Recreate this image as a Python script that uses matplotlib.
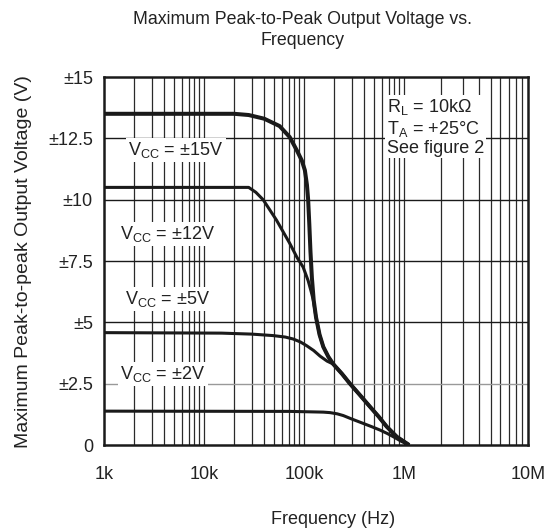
import numpy as np
import matplotlib
matplotlib.use("Agg")
import matplotlib.pyplot as plt
from matplotlib.ticker import FixedLocator, NullFormatter

plt.rcParams['font.family'] = ['Liberation Sans', 'DejaVu Sans']
plt.rcParams['mathtext.fontset'] = 'custom'
plt.rcParams['mathtext.rm'] = 'Liberation Sans'
plt.rcParams['mathtext.it'] = 'Liberation Sans'

# ---- data ----
freq_15 = [1e3, 20e3, 28e3, 40e3, 57e3, 72e3, 85e3, 95e3, 102e3, 107e3, 110e3, 113e3,
           116e3, 120e3, 125e3, 132e3, 143e3, 156e3, 175e3, 196e3, 240e3, 288e3,
           360e3, 457e3, 560e3, 671e3, 850e3, 1.1e6]
v_15 = [13.5, 13.5, 13.45, 13.3, 13.0, 12.55, 12.0, 11.6, 11.2, 10.6, 10.0, 9.0,
        7.9, 6.8, 5.9, 5.2, 4.5, 4.0, 3.6, 3.3, 2.9, 2.5, 2.05, 1.56, 1.15, 0.75, 0.33, 0.0]

freq_12 = [1e3, 28e3, 33e3, 39e3, 53e3, 72e3, 85e3, 98e3, 110e3, 118e3, 124e3,
           132e3, 143e3, 156e3, 175e3, 196e3, 240e3, 288e3, 360e3, 457e3, 560e3,
           671e3, 850e3, 1.1e6]
v_12 = [10.5, 10.5, 10.3, 10.0, 9.17, 8.22, 7.65, 7.25, 6.7, 6.25, 5.9,
        5.2, 4.5, 4.0, 3.6, 3.3, 2.9, 2.5, 2.05, 1.56, 1.15, 0.75, 0.33, 0.0]

freq_5 = [1e3, 15e3, 30e3, 49e3, 65e3, 78e3, 92e3, 106e3, 125e3, 145e3, 170e3, 196e3,
          240e3, 288e3, 360e3, 457e3, 560e3, 671e3, 850e3, 1.1e6]
v_5 = [4.58, 4.56, 4.52, 4.46, 4.4, 4.32, 4.2, 4.05, 3.85, 3.62, 3.42, 3.3,
       2.9, 2.5, 2.05, 1.56, 1.15, 0.75, 0.33, 0.0]

freq_2 = [1e3, 72e3, 156e3, 182e3, 215e3, 247e3, 300e3, 391e3, 480e3, 575e3, 680e3,
          780e3, 950e3, 1.1e6]
v_2 = [1.38, 1.37, 1.34, 1.32, 1.27, 1.2, 1.06, 0.88, 0.74, 0.61, 0.47, 0.34, 0.14, 0.0]

x_ticks = [1e3, 1e4, 1e5, 1e6, 1e7]
x_tick_labels = ['1k', '10k', '100k', '1M', '10M']
y_ticks = [0, 2.5, 5, 7.5, 10, 12.5, 15]
y_tick_labels = ['0', '±2.5', '±5', '±7.5', '±10', '±12.5', '±15']

curve_labels = [r'V$_{\mathrm{CC}}$ = ±15V', r'V$_{\mathrm{CC}}$ = ±12V',
                r'V$_{\mathrm{CC}}$ = ±5V', r'V$_{\mathrm{CC}}$ = ±2V']
cond_text = 'R$_{\\mathrm{L}}$ = 10kΩ\nT$_{\\mathrm{A}}$ = +25°C\nSee figure 2'


# piecewise log scale (last decade drawn wider, as in the datasheet graph)
def fwd(x):
    x = np.asarray(x, dtype=float)
    lx = np.log10(np.clip(x, 1e-12, None))
    return np.where(lx <= 6, lx - 3, 3 + (lx - 6) * 1.24)


def inv(u):
    u = np.asarray(u, dtype=float)
    return np.where(u <= 3, 10 ** (u + 3), 10 ** (6 + (u - 3) / 1.24))


fig = plt.figure(figsize=(5.49, 5.30), dpi=100)
ax = fig.add_axes([104 / 549, 1 - 445 / 530, 424 / 549, 368 / 530])
ax.set_xscale('function', functions=(fwd, inv))
ax.set_xlim(1e3, 1e7)
ax.set_ylim(0, 15)

# grid
minor = [m * 10 ** e for e in range(3, 7) for m in range(2, 10)]
for xv in minor + [1e4, 1e5, 1e6]:
    ax.axvline(xv, color='#2a2a2a', lw=0.9, zorder=1)
for yv in y_ticks[1:-1]:
    ax.axhline(yv, color='#999999' if yv == 2.5 else '#1a1a1a', lw=1.0, zorder=1)

ax.plot(freq_2, v_2, color='#1a1a1a', lw=2.2, zorder=3, solid_capstyle='butt')
ax.plot(freq_5, v_5, color='#1a1a1a', lw=2.2, zorder=3, solid_capstyle='butt')
ax.plot(freq_12, v_12, color='#1a1a1a', lw=2.2, zorder=3, solid_capstyle='butt')
ax.plot(freq_15, v_15, color='#1a1a1a', lw=2.9, zorder=3, solid_capstyle='butt')

ax.xaxis.set_major_locator(FixedLocator(x_ticks))
ax.xaxis.set_minor_locator(FixedLocator(minor))
ax.xaxis.set_minor_formatter(NullFormatter())
ax.set_xticklabels(x_tick_labels)
ax.set_yticks(y_ticks)
ax.set_yticklabels(y_tick_labels)
ax.tick_params(axis='both', which='both', length=0, labelsize=13, colors='#222222')
ax.tick_params(axis='x', pad=15)
ax.tick_params(axis='y', pad=8)
for s in ax.spines.values():
    s.set_linewidth(1.8)
    s.set_color('#1a1a1a')
    s.set_zorder(5)

bbox = dict(facecolor='white', edgecolor='none', pad=1.5)
label_pos = [(0.170, 0.802), (0.151, 0.573), (0.151, 0.397), (0.139, 0.193)]
for (xf, yf), lab in zip(label_pos, curve_labels):
    ax.text(xf, yf, lab, transform=ax.transAxes, ha='center', va='center',
            fontsize=13, color='#222222', bbox=bbox, zorder=4)

ax.text(0.667, 0.945, cond_text, transform=ax.transAxes, ha='left', va='top',
        fontsize=13, color='#222222', linespacing=1.1,
        bbox=dict(facecolor='white', edgecolor='none', pad=1.0), zorder=4)

fig.text(303 / 549, 1 - 30 / 530, 'Maximum Peak-to-Peak Output Voltage vs.\nFrequency',
         ha='center', va='center', fontsize=12.8, color='#222222', linespacing=1.35)
fig.text(333 / 549, 1 - 519 / 530, 'Frequency (Hz)', ha='center', va='center',
         fontsize=13, color='#222222')
fig.text(24 / 549, 1 - 262 / 530, 'Maximum Peak-to-peak Output Voltage (V)',
         ha='center', va='center', rotation=90, fontsize=14, color='#222222')

fig.savefig('out.png', dpi=100, facecolor='white')
